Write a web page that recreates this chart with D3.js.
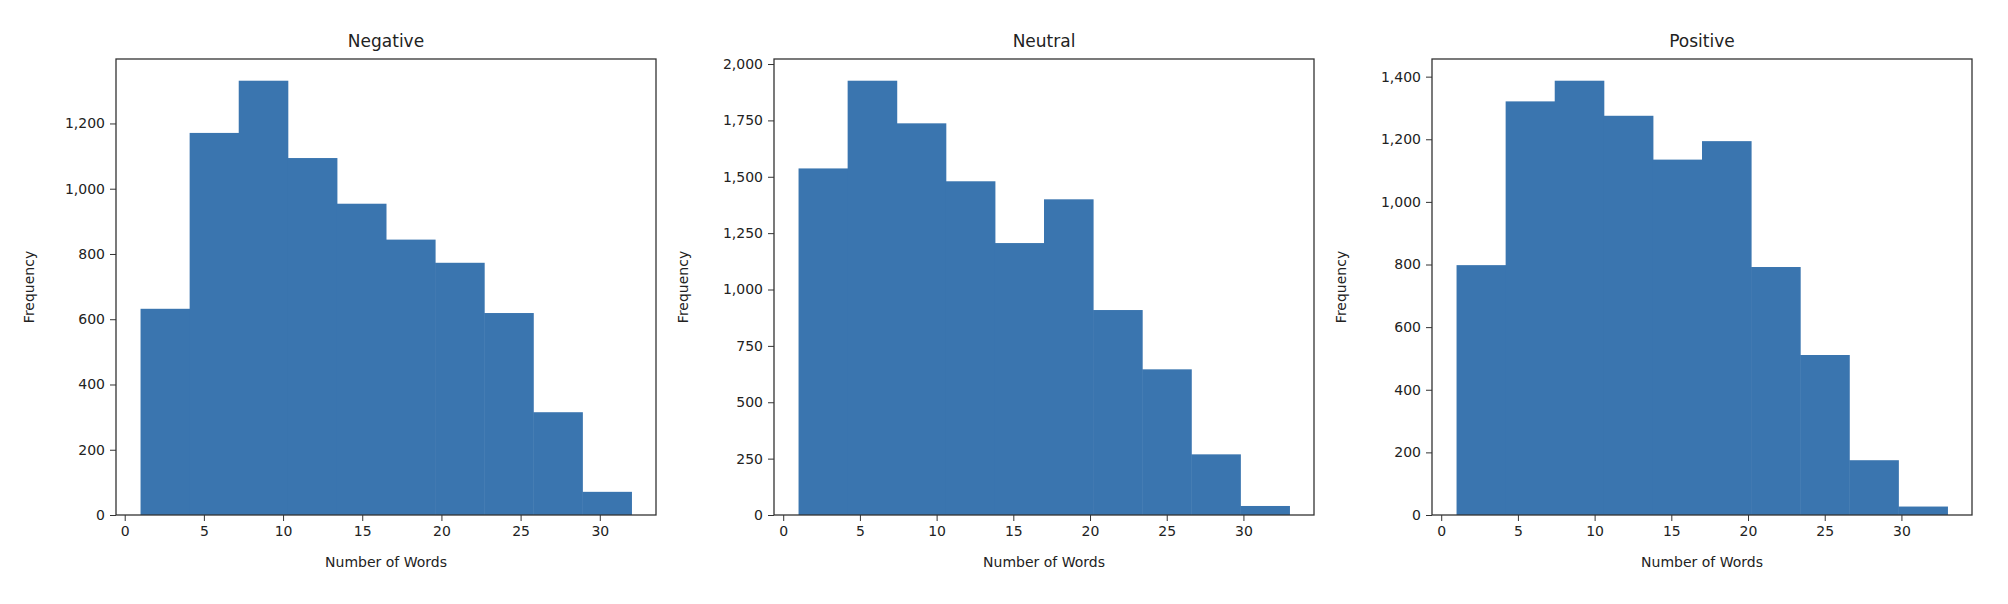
<!DOCTYPE html>
<html><head><meta charset="utf-8">
<script src="https://cdn.jsdelivr.net/npm/d3@7"></script>
<style>body{margin:0;background:#fff}text{font-family:"DejaVu Sans",sans-serif;fill:#222}</style>
</head><body><svg id="c" width="2008" height="604"></svg>
<script>
const titles = ["Negative","Neutral","Positive"];
const binRanges = [[1,32],[1,33],[1,33]];
const negative = [632,1171,1331,1094,954,844,773,619,315,71];
const neutral = [1537,1926,1737,1480,1206,1400,909,646,269,40];
const positive = [798,1321,1387,1275,1135,1194,792,511,175,27];
const xTicks = [0,5,10,15,20,25,30];
const yTicks = [[0,200,400,600,800,1000,1200],[0,250,500,750,1000,1250,1500,1750,2000],[0,200,400,600,800,1000,1200,1400]];
const series = [negative, neutral, positive];

const svg = d3.select("#c");
const lefts = [116,774,1432], W = 540, plotTop = 59, plotBottom = 515;
series.forEach((vals,i)=>{
  const [lo,hi] = binRanges[i], n = vals.length, bw = (hi-lo)/n;
  const pad = (hi-lo)*0.05;
  const x = d3.scaleLinear().domain([lo-pad,hi+pad]).range([lefts[i],lefts[i]+W]);
  const ymax = d3.max(vals)*1.05;
  const y = d3.scaleLinear().domain([0,ymax]).range([plotBottom,plotTop]);
  const g = svg.append("g");
  g.selectAll("rect").data(vals).join("rect")
    .attr("x",(d,j)=>x(lo+j*bw)).attr("width",(d,j)=>x(lo+(j+1)*bw)-x(lo+j*bw)+0.5)
    .attr("y",d=>y(d)).attr("height",d=>plotBottom-y(d)).attr("fill","#3a75af");
  g.append("rect").attr("x",lefts[i]).attr("y",plotTop).attr("width",W).attr("height",plotBottom-plotTop)
    .attr("fill","none").attr("stroke","#333").attr("stroke-width",1.3);
  const xa = g.append("g").attr("transform",`translate(0,${plotBottom})`)
    .call(d3.axisBottom(x).tickValues(xTicks).tickSize(6).tickPadding(5));
  const ya = g.append("g").attr("transform",`translate(${lefts[i]},0)`)
    .call(d3.axisLeft(y).tickValues(yTicks[i]).tickSize(6).tickPadding(5));
  [xa,ya].forEach(a=>{a.select(".domain").remove();a.selectAll("line").attr("stroke","#333");
    a.selectAll("text").attr("font-size",14).attr("fill","#222").attr("font-family","DejaVu Sans");});
  g.append("text").attr("x",lefts[i]+W/2).attr("y",plotTop-12).attr("text-anchor","middle")
    .attr("font-size",17).text(titles[i]);
  g.append("text").attr("x",lefts[i]+W/2).attr("y",plotBottom+52).attr("text-anchor","middle")
    .attr("font-size",14).text("Number of Words");
  const yl = i===0?lefts[i]-82:lefts[i]-86;
  g.append("text").attr("transform",`translate(${yl},${(plotTop+plotBottom)/2}) rotate(-90)`)
    .attr("text-anchor","middle").attr("font-size",14).text("Frequency");
});
</script></body></html>
